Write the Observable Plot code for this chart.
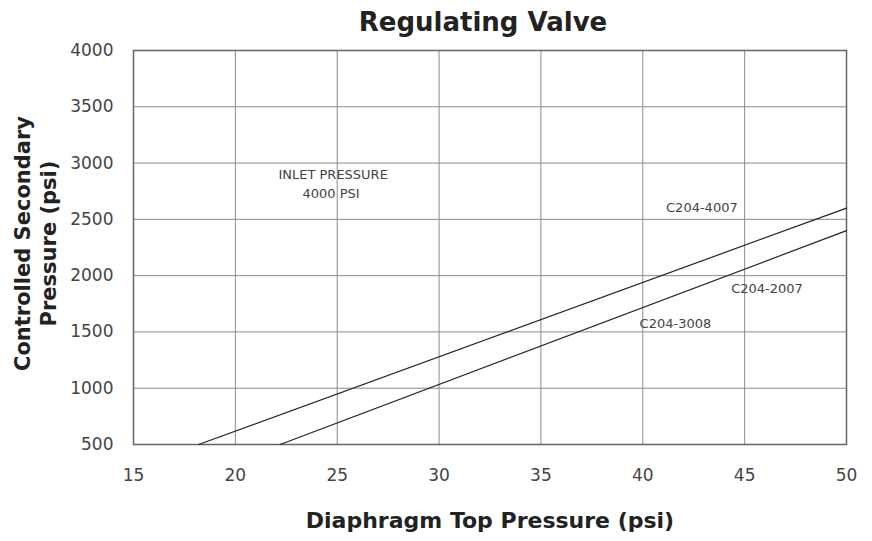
<!DOCTYPE html>
<html>
<head>
<meta charset="utf-8">
<script src="https://cdn.jsdelivr.net/npm/d3@7"></script>
<script src="https://cdn.jsdelivr.net/npm/@observablehq/plot@0.6"></script>
<style>
  body { margin: 0; background: #fff; font-family: "DejaVu Sans", sans-serif; }
  #wrap { width: 872px; }
  #title { height: 40px; line-height: 44px; text-align: center; font-weight: bold; font-size: 26px; color: #222; padding-left: 94px; box-sizing: border-box; }
</style>
</head>
<body>
<div id="wrap">
  <div id="title">Regulating Valve</div>
  <div id="chart"></div>
</div>
<script>
const xTicks = [15, 20, 25, 30, 35, 40, 45, 50];
const yTicks = [500, 1000, 1500, 2000, 2500, 3000, 3500, 4000];

const seriesNames = ["C204-4007", "C204-2007"];
const seriesX = [[18.2, 50], [22.2, 50]];
const seriesY = [[500, 2600], [500, 2400]];

const noteText = ["INLET PRESSURE", "4000 PSI", "C204-4007", "C204-2007", "C204-3008"];
const noteX = [24.8, 24.7, 42.9, 46.1, 41.6];
const noteY = [2900, 2730, 2600, 1880, 1575];

const lineData = seriesNames.flatMap((s, i) => seriesX[i].map((x, j) => ({series: s, x, y: seriesY[i][j]})));
const notes = noteText.map((t, i) => ({text: t, x: noteX[i], y: noteY[i]}));

const chart = Plot.plot({
  width: 872,
  height: 501,
  marginTop: 10,
  marginLeft: 133,
  marginRight: 26,
  marginBottom: 97,
  style: { fontFamily: "DejaVu Sans, sans-serif", background: "#fff" },
  x: { domain: [15, 50], ticks: xTicks, label: null },
  y: { domain: [500, 4000], ticks: yTicks, label: null },
  marks: [
    Plot.gridX(xTicks, { stroke: "#8a8a8a", strokeOpacity: 1, strokeWidth: 1 }),
    Plot.gridY(yTicks, { stroke: "#8a8a8a", strokeOpacity: 1, strokeWidth: 1 }),
    Plot.frame({ stroke: "#666", strokeWidth: 1.5 }),
    Plot.line(lineData, { x: "x", y: "y", z: "series", stroke: "#222", strokeWidth: 1.2 }),
    Plot.text(notes, { x: "x", y: "y", text: "text", fontSize: 13, fill: "#444" }),
    Plot.axisX(xTicks, { tickSize: 0, tickPadding: 24, fontSize: 17, fill: "#444", tickFormat: d => String(d) }),
    Plot.axisY(yTicks, { tickSize: 0, tickPadding: 20, fontSize: 17, fill: "#444", tickFormat: d => String(d) }),
    Plot.text(["Diaphragm Top Pressure (psi)"], { frameAnchor: "bottom", dy: 83, fontSize: 22, fontWeight: "bold", fill: "#222" }),
    Plot.text(["Controlled Secondary\nPressure (psi)"], { frameAnchor: "left", textAnchor: "middle", dx: -99, dy: -4, rotate: -90, fontSize: 21, fontWeight: "bold", fill: "#222", lineHeight: 1.25 })
  ]
});
document.getElementById("chart").appendChild(chart);
</script>
</body>
</html>
